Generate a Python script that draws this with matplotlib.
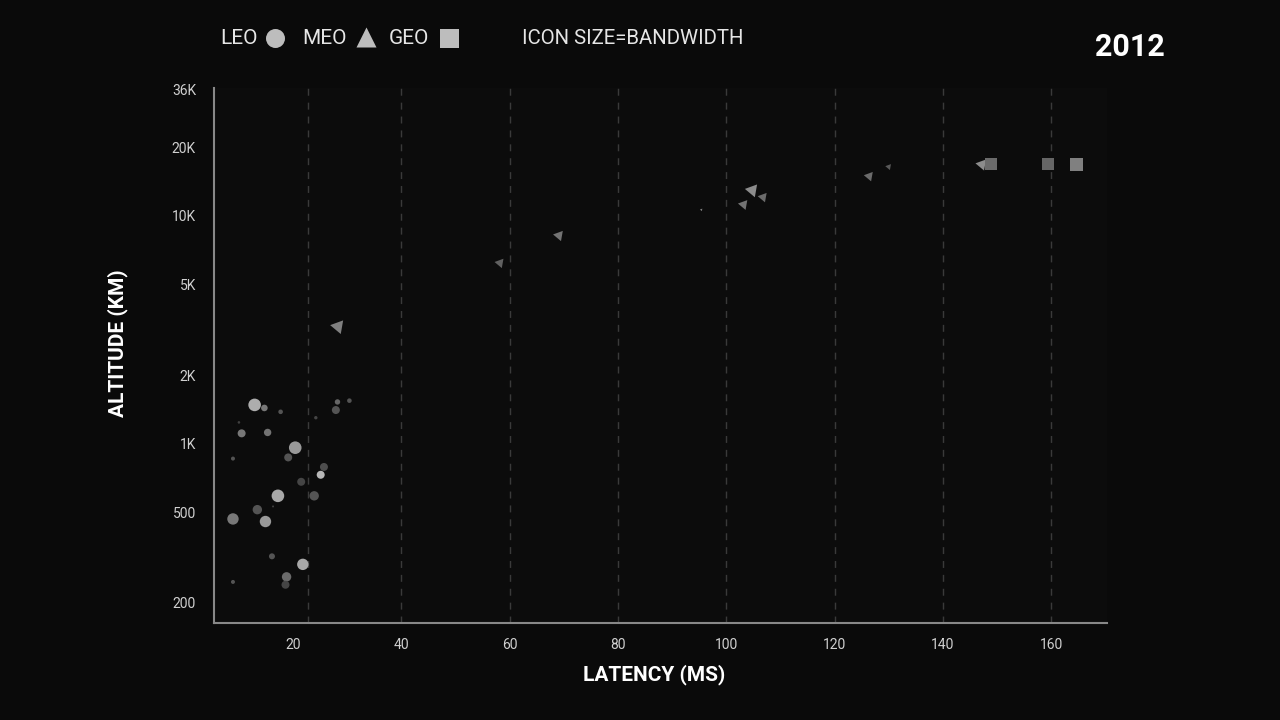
import matplotlib
matplotlib.use("Agg")
import matplotlib.pyplot as plt
import numpy as np

plt.rcParams['font.family'] = ['Liberation Sans Narrow', 'Roboto', 'DejaVu Sans']

# Data (latency ms, altitude km, relative bandwidth, tone)
leo_latency = [12.9, 14.7, 17.7, 10.0, 10.5, 15.3, 20.4, 19.1, 8.9, 25.7, 25.1, 21.5, 17.2, 23.9,
               13.4, 16.3, 8.9, 14.9, 16.1, 21.8, 18.8, 18.6, 8.9, 28.2, 30.4, 27.9, 24.2]
leo_altitude = [1480, 1435, 1380, 1240, 1110, 1120, 960, 870, 860, 790, 730, 680, 590, 590,
                513, 530, 467, 455, 320, 295, 260, 240, 247, 1525, 1545, 1405, 1300]
leo_bandwidth = [12.6, 6.6, 4.6, 2.6, 8.0, 7.4, 12.6, 8.0, 4.0, 8.0, 8.0, 8.0, 12.6, 9.4,
                 9.4, 2.0, 11.4, 11.4, 6.0, 11.4, 9.4, 8.0, 4.0, 5.4, 4.6, 8.0, 3.4]
leo_tone = [0.68, 0.47, 0.33, 0.25, 0.47, 0.45, 0.60, 0.33, 0.33, 0.30, 0.72, 0.27, 0.66, 0.33,
            0.33, 0.25, 0.47, 0.60, 0.33, 0.66, 0.42, 0.27, 0.33, 0.40, 0.33, 0.33, 0.27]

meo_latency = [28.3, 58.2, 69.1, 104.8, 106.8, 103.2, 95.4, 126.4, 130.0, 147.2]
meo_altitude = [3270, 6220, 8210, 12980, 12100, 11230, 10650, 14960, 16450, 16840]
meo_bandwidth = [16.0, 11.0, 12.0, 15.0, 11.0, 11.5, 3.0, 11.0, 7.0, 13.0]
meo_tone = [0.50, 0.38, 0.45, 0.55, 0.42, 0.45, 0.50, 0.42, 0.35, 0.55]

geo_latency = [148.9, 159.5, 164.7]
geo_altitude = [16840, 16840, 16840]
geo_bandwidth = [12.0, 12.0, 13.5]
geo_tone = [0.42, 0.40, 0.50]

x_ticks = [20, 40, 60, 80, 100, 120, 140, 160]
y_ticks = [200, 500, 1000, 2000, 5000, 10000, 20000, 36000]
y_tick_labels = ["200", "500", "1K", "2K", "5K", "10K", "20K", "36K"]
grid_x = [22.8, 40, 60, 80, 100, 120, 140, 160]
year = "2012"

BG = "#0a0a0a"
px2pt = 72.0 / 100.0


def tone2color(t):
    return (t, t, t)


def sizes(bw):
    return [(b * px2pt) ** 2 for b in bw]


fig = plt.figure(figsize=(12.8, 7.2), dpi=100, facecolor=BG)
ax = fig.add_axes([0.1672, 0.1347, 0.6976, 0.7431])
ax.set_facecolor("#0c0c0c")

for gx in grid_x:
    ax.axvline(gx, color="#3a3a3a", linewidth=1.0, linestyle=(0, (5, 5)), zorder=1)

ax.scatter(leo_latency, leo_altitude, s=sizes(leo_bandwidth),
           c=[tone2color(t) for t in leo_tone], marker="o", linewidths=0, zorder=3)
ax.scatter(meo_latency, meo_altitude, s=sizes(meo_bandwidth),
           c=[tone2color(t) for t in meo_tone], marker=(3, 0, 80), linewidths=0, zorder=3)
ax.scatter(geo_latency, geo_altitude, s=sizes(geo_bandwidth),
           c=[tone2color(t) for t in geo_tone], marker="s", linewidths=0, zorder=3)

ax.set_yscale("log")
ax.set_xlim(5.4, 170.3)
ax.set_ylim(163, 36500)
ax.set_xticks(x_ticks)
ax.set_xticklabels([str(v) for v in x_ticks])
ax.set_yticks(y_ticks)
ax.set_yticklabels(y_tick_labels)
ax.minorticks_off()
ax.tick_params(axis="both", length=0, colors="#d0d0d0", labelsize=10)
ax.tick_params(axis="x", pad=11)
ax.tick_params(axis="y", pad=13)

for side in ["top", "right"]:
    ax.spines[side].set_visible(False)
for side in ["left", "bottom"]:
    ax.spines[side].set_color("#888888")
    ax.spines[side].set_linewidth(1.5)

ax.set_xlabel("LATENCY (MS)", color="white", fontsize=15, fontweight="bold")
ax.set_ylabel("ALTITUDE (KM)", color="white", fontsize=15, fontweight="bold")
ax.xaxis.set_label_coords(0.4927, -0.078)
ax.yaxis.set_label_coords(-0.096, 0.523)

# legend header
fig.text(220 / 1280, 1 - 38 / 720, "LEO", color="#e6e6e6", fontsize=15, va="center", ha="left")
fig.text(302 / 1280, 1 - 38 / 720, "MEO", color="#e6e6e6", fontsize=15, va="center", ha="left")
fig.text(389 / 1280, 1 - 38 / 720, "GEO", color="#e6e6e6", fontsize=15, va="center", ha="left")
fig.text(522 / 1280, 1 - 38 / 720, "ICON SIZE=BANDWIDTH", color="#e6e6e6", fontsize=14.7,
         va="center", ha="left")
lax = fig.add_axes([0, 0, 1, 1], facecolor="none")
lax.set_xlim(0, 1280)
lax.set_ylim(720, 0)
lax.axis("off")
lax.scatter([275], [38], s=(19 * px2pt) ** 2, marker="o", color="#bdbdbd", linewidths=0)
lax.scatter([366], [37], s=(20 * px2pt) ** 2, marker="^", color="#bdbdbd", linewidths=0)
lax.scatter([449], [38], s=(19 * px2pt) ** 2, marker="s", color="#bdbdbd", linewidths=0)

fig.text(1130 / 1280, 1 - 47 / 720, year, color="white", fontsize=22, fontweight="bold",
         va="center", ha="center")

fig.savefig("out.png", dpi=100, facecolor=BG)
